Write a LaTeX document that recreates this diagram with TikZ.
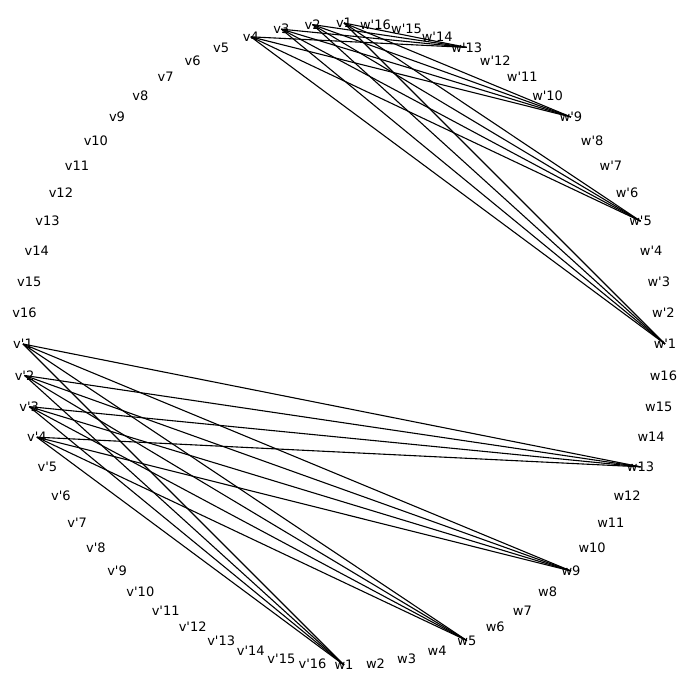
\documentclass[tikz,border=0pt]{standalone}
\usepackage{fontspec}
\newfontfamily\lblfont{DejaVu Sans}
\begin{document}
\begin{tikzpicture}[x=1pt,y=1pt,
  lbl/.style={inner sep=0pt, font=\lblfont\fontsize{13}{15}\selectfont},
  edge/.style={line width=1.1pt, draw=black}]
\useasboundingbox (0,0) rectangle (688,688);
\foreach \k in {1,...,16} {
  \pgfmathsetmacro{\av}{90+(\k-1)*5.625}
  \pgfmathsetmacro{\avp}{180+(\k-1)*5.625}
  \pgfmathsetmacro{\aw}{270+(\k-1)*5.625}
  \pgfmathsetmacro{\awp}{(\k-1)*5.625}
  \node[lbl] (v\k)  at ({344+321*cos(\av)},  {344+321*sin(\av)})  {v\k};
  \node[lbl] (vp\k) at ({344+321*cos(\avp)}, {344+321*sin(\avp)}) {v'\k};
  \node[lbl] (w\k)  at ({344+321*cos(\aw)},  {344+321*sin(\aw)})  {w\k};
  \node[lbl] (wp\k) at ({344+321*cos(\awp)}, {344+321*sin(\awp)}) {w'\k};
}
\foreach \a in {1,2,3,4} {
  \foreach \b in {1,5,9,13} {
    \draw[edge] (v\a.center) -- (wp\b.center);
    \draw[edge] (vp\a.center) -- (w\b.center);
  }
}
\end{tikzpicture}
\end{document}
